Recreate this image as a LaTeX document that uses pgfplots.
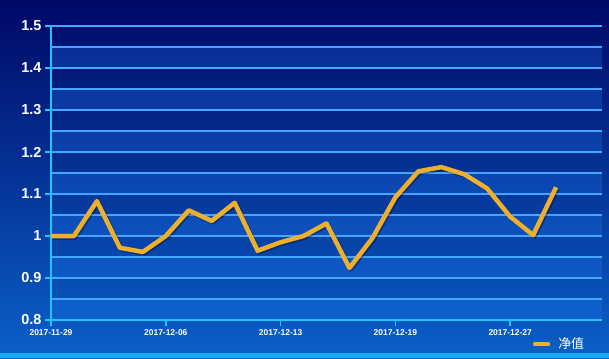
\documentclass[border=0pt]{standalone}
\usepackage{pgfplots}
\pgfplotsset{compat=1.18}
\usepackage{fontspec}
\setmainfont{Liberation Sans}
\newfontfamily\cjk{Noto Sans CJK SC}
\definecolor{bgtop}{HTML}{000866}
\definecolor{bgbot}{HTML}{0A60C8}
\definecolor{gridc}{HTML}{46A6FF}
\definecolor{axc}{HTML}{22C4FF}
\definecolor{stripc}{HTML}{1AA8F0}
\definecolor{bandc}{HTML}{2080FF}
\definecolor{linec}{HTML}{EEB02C}
\begin{document}
\begin{tikzpicture}[x=1bp,y=1bp]
\shade[top color=bgtop, bottom color=bgbot] (0,0) rectangle (609,358);
\fill[stripc] (0,0) rectangle (609,5);
\foreach \k in {0,...,6}{
  \fill[bandc, opacity=0.25] (51,{38+42*\k}) rectangle (602,{59+42*\k});
}
\begin{axis}[
  at={(51bp,38bp)}, anchor=south west, scale only axis,
  width=551bp, height=294bp,
  xmin=0, xmax=24, ymin=0.8, ymax=1.5,
  axis x line=bottom, axis y line=left,
  axis line style={-, axc, line width=1.6bp},
  tick align=outside, major tick length=6bp,
  tick style={axc, line width=1.6bp},
  xtick={0,5,10,15,20},
  xticklabels={2017-11-29,2017-12-06,2017-12-13,2017-12-19,2017-12-27},
  ytick={0.8,0.9,1,1.1,1.2,1.3,1.4,1.5},
  yticklabels={0.8,0.9,1,1.1,1.2,1.3,1.4,1.5},
  minor ytick={0.85,0.95,1.05,1.15,1.25,1.35,1.45},
  minor tick length=0pt,
  ymajorgrids, yminorgrids,
  major grid style={gridc, line width=1.2bp},
  minor grid style={gridc, line width=1.2bp},
  x tick label style={font=\bfseries\fontsize{8.5}{9}\selectfont, text=white},
  y tick label style={font=\bfseries\fontsize{14.5}{15}\selectfont, text=white},
  clip=false,
  legend style={at={(0.874,-0.082)}, anchor=west, draw=none, fill=none,
    text=white, font=\cjk\fontsize{13}{13}\selectfont, inner sep=0pt},
  legend image code/.code={\draw[linec, line width=4.5bp, line cap=round] (0bp,0bp) -- (13bp,0bp);},
]
\addplot[black, opacity=0.3, line width=4.5bp, xshift=1.5bp, yshift=-1.5bp, line join=round, forget plot] coordinates {
(0,1.0) (1,1.0) (2,1.083) (3,0.972) (4,0.962) (5,1.0) (6,1.061) (7,1.036) (8,1.079) (9,0.965) (10,0.985) (11,1.0) (12,1.03) (13,0.924) (14,0.995) (15,1.092) (16,1.154) (17,1.164) (18,1.147) (19,1.113) (20,1.046) (21,1.002) (22,1.116)
};
\addplot[linec, line width=4.5bp, line join=round] coordinates {
(0,1.0) (1,1.0) (2,1.083) (3,0.972) (4,0.962) (5,1.0) (6,1.061) (7,1.036) (8,1.079) (9,0.965) (10,0.985) (11,1.0) (12,1.03) (13,0.924) (14,0.995) (15,1.092) (16,1.154) (17,1.164) (18,1.147) (19,1.113) (20,1.046) (21,1.002) (22,1.116)
};
\addlegendentry{\hspace{6bp}净值}
\end{axis}
\end{tikzpicture}
\end{document}
